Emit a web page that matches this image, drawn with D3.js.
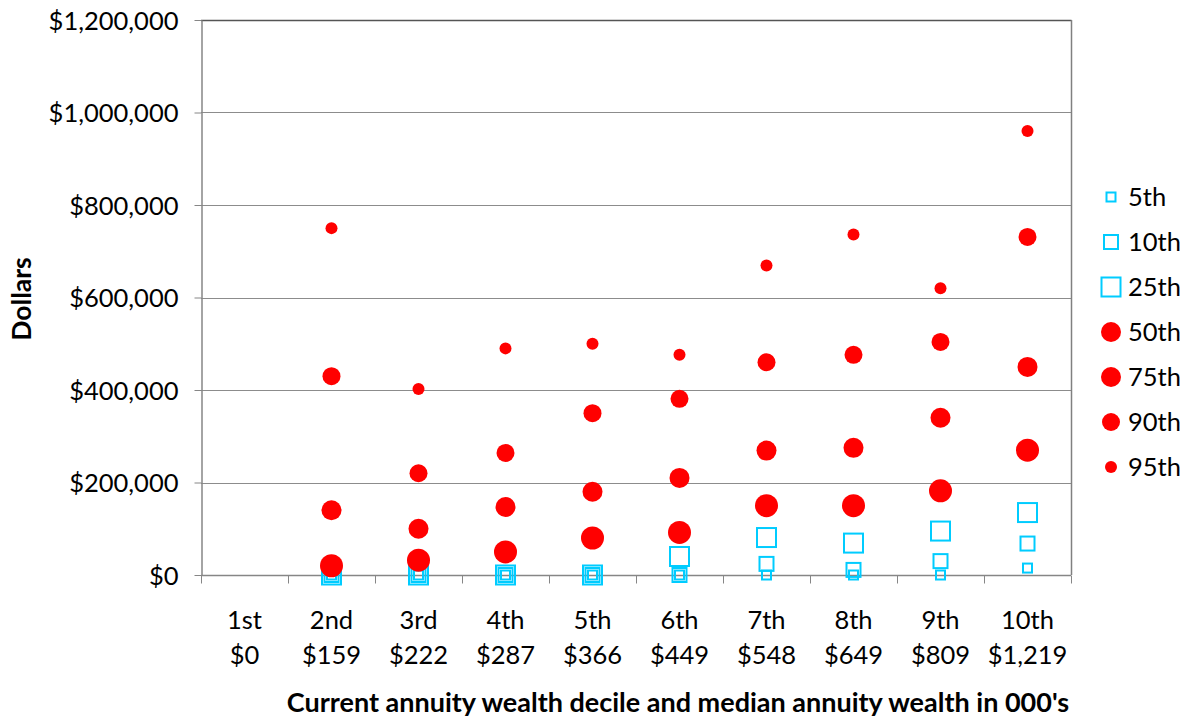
<!DOCTYPE html>
<html>
<head>
<meta charset="utf-8">
<script src="https://cdn.jsdelivr.net/npm/d3@7"></script>
<style>
  html, body { margin: 0; padding: 0; background: #fff; }
  svg { display: block; }
  text { font-family: Lato, "Open Sans", sans-serif; fill: #000; }
</style>
</head>
<body>
<svg id="chart" width="1190" height="719"></svg>
<script>
// Decile categories and the median annuity wealth (in $000's) of each
const categories = ["1st", "2nd", "3rd", "4th", "5th", "6th", "7th", "8th", "9th", "10th"];
const medianWealth = ["$0", "$159", "$222", "$287", "$366", "$449", "$548", "$649", "$809", "$1,219"];

// Percentile values per decile (dollars); null = no observation
const p5  = [null, 0, 0, 0, 0, 0, 0, 0, 0, 15000];
const p10 = [null, 0, 0, 0, 0, 0, 24000, 11000, 30000, 68000];
const p25 = [null, 0, 0, 0, 0, 40000, 81000, 69000, 95000, 135000];
const p50 = [null, 20000, 32000, 50000, 80000, 92000, 150000, 150000, 182000, 270000];
const p75 = [null, 140000, 100000, 147000, 180000, 210000, 269000, 275000, 340000, 450000];
const p90 = [null, 430000, 220000, 264000, 350000, 381000, 460000, 476000, 504000, 731000];
const p95 = [null, 750000, 402000, 490000, 500000, 476000, 669000, 736000, 620000, 960000];

const seriesNames = ["5th", "10th", "25th", "50th", "75th", "90th", "95th"];
const yTicks = [0, 200000, 400000, 600000, 800000, 1000000, 1200000];

// Marker styling per series
const seriesList = [
  { name: seriesNames[0], values: p5,  shape: "square", size: 9 },
  { name: seriesNames[1], values: p10, shape: "square", size: 14 },
  { name: seriesNames[2], values: p25, shape: "square", size: 19 },
  { name: seriesNames[3], values: p50, shape: "circle", size: 23, legendSize: 20 },
  { name: seriesNames[4], values: p75, shape: "circle", size: 20 },
  { name: seriesNames[5], values: p90, shape: "circle", size: 18 },
  { name: seriesNames[6], values: p95, shape: "circle", size: 12 }
];

const CYAN = "#00CCFF", RED = "#FF0000";
const plot = { left: 201, right: 1071, top: 20, bottom: 575 };

const svg = d3.select("#chart");

const x = d3.scaleBand().domain(categories).range([plot.left, plot.right]).padding(0);
const y = d3.scaleLinear().domain([0, 1200000]).range([plot.bottom, plot.top]);

// Horizontal gridlines
svg.append("g")
  .selectAll("line")
  .data(yTicks.slice(1))
  .join("line")
  .attr("x1", plot.left).attr("x2", plot.right)
  .attr("y1", d => Math.round(y(d)) + 0.5).attr("y2", d => Math.round(y(d)) + 0.5)
  .attr("stroke", "#8c8c8c").attr("stroke-width", 1);

// Plot border (top and right)
svg.append("line")
  .attr("x1", plot.left).attr("x2", plot.right + 0.5)
  .attr("y1", plot.top + 0.5).attr("y2", plot.top + 0.5)
  .attr("stroke", "#555").attr("stroke-width", 1.5);
svg.append("line")
  .attr("x1", plot.right + 0.5).attr("x2", plot.right + 0.5)
  .attr("y1", plot.top).attr("y2", plot.bottom)
  .attr("stroke", "#808080").attr("stroke-width", 1.5);

// Y axis
const yAxis = svg.append("g")
  .attr("transform", `translate(${plot.left + 0.5},0)`)
  .call(d3.axisLeft(y).tickValues(yTicks).tickSize(7).tickSizeOuter(0).tickPadding(16)
    .tickFormat(d3.format("$,")));
yAxis.select(".domain").attr("stroke", "#868686").attr("stroke-width", 1.5);
yAxis.selectAll(".tick line").attr("stroke", "#868686");
yAxis.selectAll(".tick text")
  .attr("font-family", "Lato, sans-serif").attr("font-size", 25.5).attr("fill", "#000")
  .attr("dy", "0.36em");

// X axis line with ticks at category boundaries
const xAxis = svg.append("g").attr("transform", `translate(0,${Math.round(y(0)) + 0.5})`);
xAxis.append("line")
  .attr("x1", plot.left).attr("x2", plot.right)
  .attr("stroke", "#868686").attr("stroke-width", 1.5);
const boundaries = categories.map(c => x(c)).concat([x(categories[categories.length - 1]) + x.bandwidth()]);
xAxis.selectAll("line.tick")
  .data(boundaries)
  .join("line")
  .attr("class", "tick")
  .attr("x1", d => Math.round(d) + 0.5).attr("x2", d => Math.round(d) + 0.5)
  .attr("y1", 0).attr("y2", 8)
  .attr("stroke", "#868686");

// Two-line category labels: decile, then median wealth
const xLabels = svg.append("g");
categories.forEach((c, i) => {
  const cx = x(c) + x.bandwidth() / 2;
  const t = xLabels.append("text")
    .attr("text-anchor", "middle")
    .attr("font-size", 25.5);
  t.append("tspan").attr("x", cx).attr("y", 629).text(c);
  t.append("tspan").attr("x", cx).attr("y", 664).text(medianWealth[i]);
});

// Axis titles
svg.append("text")
  .attr("transform", "translate(31,299) rotate(-90)")
  .attr("text-anchor", "middle")
  .attr("font-weight", "bold")
  .attr("font-size", 26.5)
  .text("Dollars");

svg.append("text")
  .attr("x", 678).attr("y", 712)
  .attr("text-anchor", "middle")
  .attr("font-weight", "bold")
  .attr("font-size", 27)
  .text("Current annuity wealth decile and median annuity wealth in 000's");

// Marker drawing helper
function drawMarker(g, shape, size, cx, cy) {
  if (shape === "square") {
    g.append("rect")
      .attr("x", cx - size / 2).attr("y", cy - size / 2)
      .attr("width", size).attr("height", size)
      .attr("fill", "none").attr("stroke", CYAN).attr("stroke-width", 2);
  } else {
    g.append("circle")
      .attr("cx", cx).attr("cy", cy).attr("r", size / 2)
      .attr("fill", RED);
  }
}

// Series markers, drawn in series order
const marks = svg.append("g");
seriesList.forEach(s => {
  const g = marks.append("g").attr("class", "series");
  s.values.forEach((v, i) => {
    if (v === null) return;
    drawMarker(g, s.shape, s.size, x(categories[i]) + x.bandwidth() / 2, y(v));
  });
});

// Legend
const legend = svg.append("g");
seriesList.forEach((s, i) => {
  const ly = 197 + i * 45;
  drawMarker(legend, s.shape, s.legendSize || s.size, 1111, ly);
  legend.append("text")
    .attr("x", 1128).attr("y", ly).attr("dy", "0.36em")
    .attr("font-size", 25.5)
    .text(s.name);
});
</script>
</body>
</html>
